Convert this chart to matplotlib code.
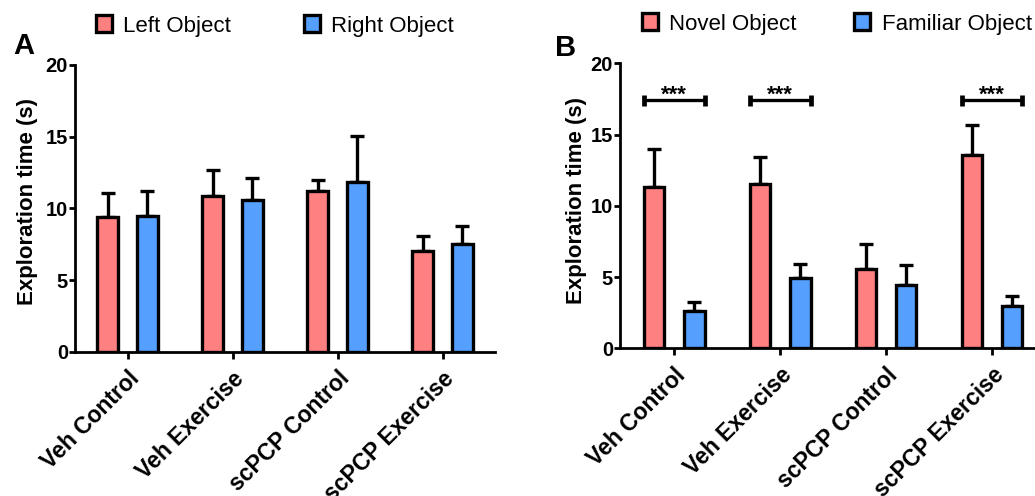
import numpy as np
import matplotlib
matplotlib.use("Agg")
import matplotlib.pyplot as plt

plt.rcParams["font.family"] = ["Liberation Sans", "DejaVu Sans"]

# ---- data -------------------------------------------------------------
groups = ["Veh Control", "Veh Exercise", "scPCP Control", "scPCP Exercise"]

# Panel A: acquisition trial
left_obj = [9.4, 10.85, 11.2, 7.0]
left_sem = [1.65, 1.85, 0.8, 1.05]
right_obj = [9.5, 10.55, 11.85, 7.5]
right_sem = [1.7, 1.6, 3.2, 1.25]

# Panel B: retention trial
novel_obj = [11.3, 11.5, 5.55, 13.55]
novel_sem = [2.7, 1.9, 1.8, 2.1]
familiar_obj = [2.6, 4.9, 4.45, 2.95]
familiar_sem = [0.65, 1.05, 1.4, 0.75]

sig_groups = [0, 1, 3]
sig_text = "***"
sig_level = 17.4

yticks = [0, 5, 10, 15, 20]
ylabel = "Exploration time (s)"

# ---- style ------------------------------------------------------------
RED = "#FF8080"
BLUE = "#559FFF"
EDGE_LW = 2.4
BAR_W = 0.195
OFFSET = 0.19

fig = plt.figure(figsize=(10.35, 4.96), dpi=100)
W, H = 1035.0, 496.0
axA = fig.add_axes([75 / W, 1 - 351.7 / H, 420 / W, 286.7 / H])
axB = fig.add_axes([620 / W, 1 - 348.3 / H, 425 / W, 285 / H])


def grouped_bars(ax, a, a_err, b, b_err, xlim):
    x = np.arange(len(groups))
    bars_a = ax.bar(x - OFFSET, a, BAR_W, color=RED, edgecolor="black",
                    linewidth=EDGE_LW, zorder=3)
    bars_b = ax.bar(x + OFFSET, b, BAR_W, color=BLUE, edgecolor="black",
                    linewidth=EDGE_LW, zorder=3)
    for xs, vals, errs in ((x - OFFSET, a, a_err), (x + OFFSET, b, b_err)):
        ax.errorbar(xs, vals, yerr=[np.zeros(len(vals)), errs], fmt="none",
                    ecolor="black", elinewidth=2.4, capsize=4.8,
                    capthick=2.4, zorder=2)
    ax.set_xlim(*xlim)
    ax.set_ylim(0, 20)
    ax.set_yticks(yticks)
    ax.set_xticks(x)
    ax.set_xticklabels(groups, rotation=45, ha="right", va="top",
                       rotation_mode="anchor", fontsize=16.5,
                       fontweight="bold")
    for lab in ax.get_yticklabels():
        lab.set_fontweight("bold")
    ax.tick_params(axis="y", labelsize=14.5, length=4, width=2, pad=1)
    ax.tick_params(axis="x", length=5, width=2, pad=6)
    for side in ("top", "right"):
        ax.spines[side].set_visible(False)
    for side in ("left", "bottom"):
        ax.spines[side].set_linewidth(2.0)
    ax.set_ylabel(ylabel, fontsize=16, fontweight="bold")
    return bars_a, bars_b


bA1, bA2 = grouped_bars(axA, left_obj, left_sem, right_obj, right_sem,
                        (-0.5, 3.5))
bB1, bB2 = grouped_bars(axB, novel_obj, novel_sem, familiar_obj,
                        familiar_sem, (-0.51, 3.5))

axA.yaxis.set_label_coords(-0.088, 0.524)
axB.yaxis.set_label_coords(-0.078, 0.519)

# significance brackets
for g in sig_groups:
    x0 = g - OFFSET - BAR_W / 2
    x1 = g + OFFSET + BAR_W / 2
    axB.plot([x0, x1], [sig_level, sig_level], color="black", lw=2.4,
             solid_capstyle="butt", zorder=4)
    for xe in (x0, x1):
        axB.plot([xe, xe], [sig_level - 0.38, sig_level + 0.38],
                 color="black", lw=3.4, solid_capstyle="butt", zorder=4)
    axB.text((x0 + x1) / 2, sig_level - 0.02, sig_text, ha="center",
             va="baseline", fontsize=16, fontweight="bold")

# legends
legA = fig.legend([bA1, bA2], ["Left Object", "Right Object"],
                  loc="center left", bbox_to_anchor=(96 / W, 1 - 26 / H),
                  ncol=2, frameon=False, fontsize=16, handlelength=0.72,
                  handleheight=0.8, handletextpad=0.5, columnspacing=3.3,
                  borderpad=0, borderaxespad=0)
legB = fig.legend([bB1, bB2], ["Novel Object", "Familiar Object"],
                  loc="center left", bbox_to_anchor=(642 / W, 1 - 24 / H),
                  ncol=2, frameon=False, fontsize=16, handlelength=0.72,
                  handleheight=0.8, handletextpad=0.5, columnspacing=2.6,
                  borderpad=0, borderaxespad=0)

# panel letters
fig.text(13 / W, 1 - 54 / H, "A", fontsize=21, fontweight="bold",
         va="baseline")
fig.text(555 / W, 1 - 56 / H, "B", fontsize=21, fontweight="bold",
         va="baseline")

fig.savefig("out.png", dpi=100)
